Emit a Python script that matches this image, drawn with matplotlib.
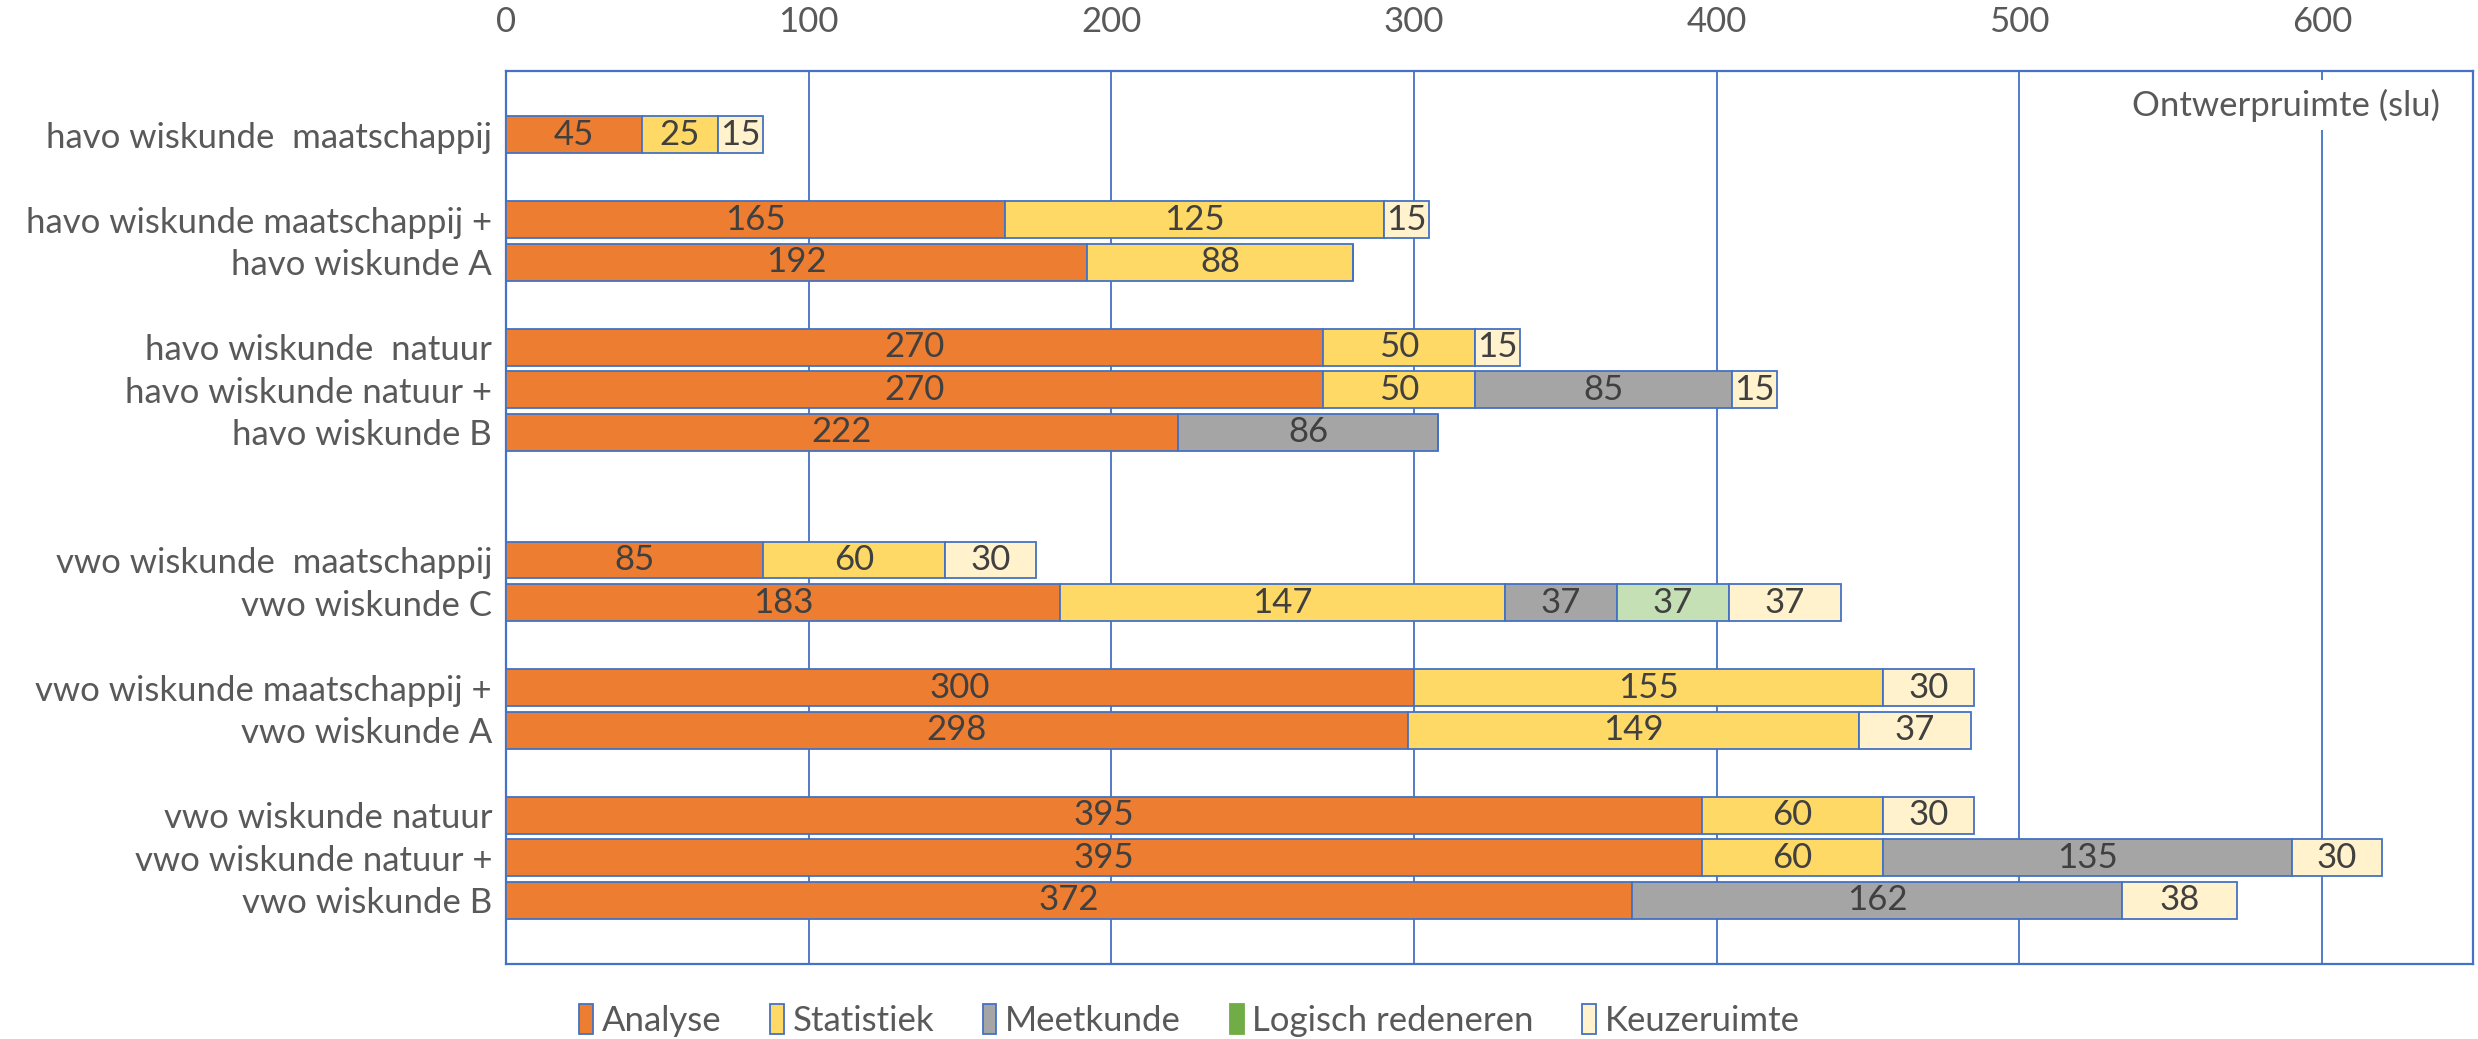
import matplotlib
matplotlib.use("Agg")
import matplotlib.pyplot as plt
from matplotlib.patches import Patch

plt.rcParams['font.family'] = ['Lato', 'DejaVu Sans']

# Course labels and the row each one occupies (empty rows separate the groups)
labels = [
    "havo wiskunde  maatschappij",
    "havo wiskunde maatschappij +",
    "havo wiskunde A",
    "havo wiskunde  natuur",
    "havo wiskunde natuur +",
    "havo wiskunde B",
    "vwo wiskunde  maatschappij",
    "vwo wiskunde C",
    "vwo wiskunde maatschappij +",
    "vwo wiskunde A",
    "vwo wiskunde natuur",
    "vwo wiskunde natuur +",
    "vwo wiskunde B",
]
rows = [1, 3, 4, 6, 7, 8, 11, 12, 14, 15, 17, 18, 19]
n_rows = 21

analyse = [45, 165, 192, 270, 270, 222, 85, 183, 300, 298, 395, 395, 372]
statistiek = [25, 125, 88, 50, 50, 0, 60, 147, 155, 149, 60, 60, 0]
meetkunde = [0, 0, 0, 0, 85, 86, 0, 37, 0, 0, 0, 135, 162]
logisch = [0, 0, 0, 0, 0, 0, 0, 37, 0, 0, 0, 0, 0]
keuzeruimte = [15, 15, 0, 15, 15, 0, 30, 37, 30, 37, 30, 30, 38]

series_names = ["Analyse", "Statistiek", "Meetkunde", "Logisch redeneren", "Keuzeruimte"]
series = [analyse, statistiek, meetkunde, logisch, keuzeruimte]
bar_colors = ["#ED7D31", "#FFD966", "#A5A5A5", "#C5E0B4", "#FFF2CC"]
legend_colors = ["#ED7D31", "#FFD966", "#A5A5A5", "#70AD47", "#FFF2CC"]

ticks = [0, 100, 200, 300, 400, 500, 600]
blue = "#4472C4"
text_color = "#404040"
label_color = "#595959"
fs = 25

fig = plt.figure(figsize=(24.78, 10.39), dpi=100)
ax = fig.add_axes([0.2042, 0.0722, 0.7939, 0.8595])

left = [0] * len(labels)
for name, vals, col in zip(series_names, series, bar_colors):
    bars = ax.barh(rows, vals, left=left, height=0.87, color=col,
                   edgecolor=blue, linewidth=1.3, zorder=3)
    for b, v in zip(bars, vals):
        if v > 0:
            ax.text(b.get_x() + b.get_width() / 2, b.get_y() + b.get_height() / 2,
                    str(v), ha="center", va="center", fontsize=fs,
                    color=text_color, zorder=4)
    left = [l + v for l, v in zip(left, vals)]

ax.set_xlim(0, 650)
ax.set_ylim(n_rows - 0.5, -0.5)
ax.set_yticks(rows)
ax.set_yticklabels(labels)
ax.set_xticks(ticks)
ax.xaxis.tick_top()
ax.tick_params(axis="x", length=0, pad=24, labelsize=fs, labelcolor=label_color)
ax.tick_params(axis="y", length=0, pad=10, labelsize=fs, labelcolor=label_color)

ax.grid(axis="x", color=blue, linewidth=1.3, zorder=1)
ax.set_axisbelow(True)
for s in ax.spines.values():
    s.set_color(blue)
    s.set_linewidth(1.6)

ax.text(588, 0.3, "Ontwerpruimte (slu)", ha="center", va="center",
        fontsize=fs, color=label_color, zorder=5,
        bbox=dict(facecolor="white", edgecolor="none", pad=6))

handles = []
for name, col in zip(series_names, legend_colors):
    ec = col if name == "Logisch redeneren" else blue
    handles.append(Patch(facecolor=col, edgecolor=ec, linewidth=1.3, label=name))
fig.legend(handles=handles, loc="center", bbox_to_anchor=(0.48, 0.018),
           ncol=5, frameon=False, fontsize=fs, labelcolor=label_color,
           handlelength=0.4, handleheight=0.95, handletextpad=0.25,
           columnspacing=1.4)

fig.savefig("out.png", dpi=100)
